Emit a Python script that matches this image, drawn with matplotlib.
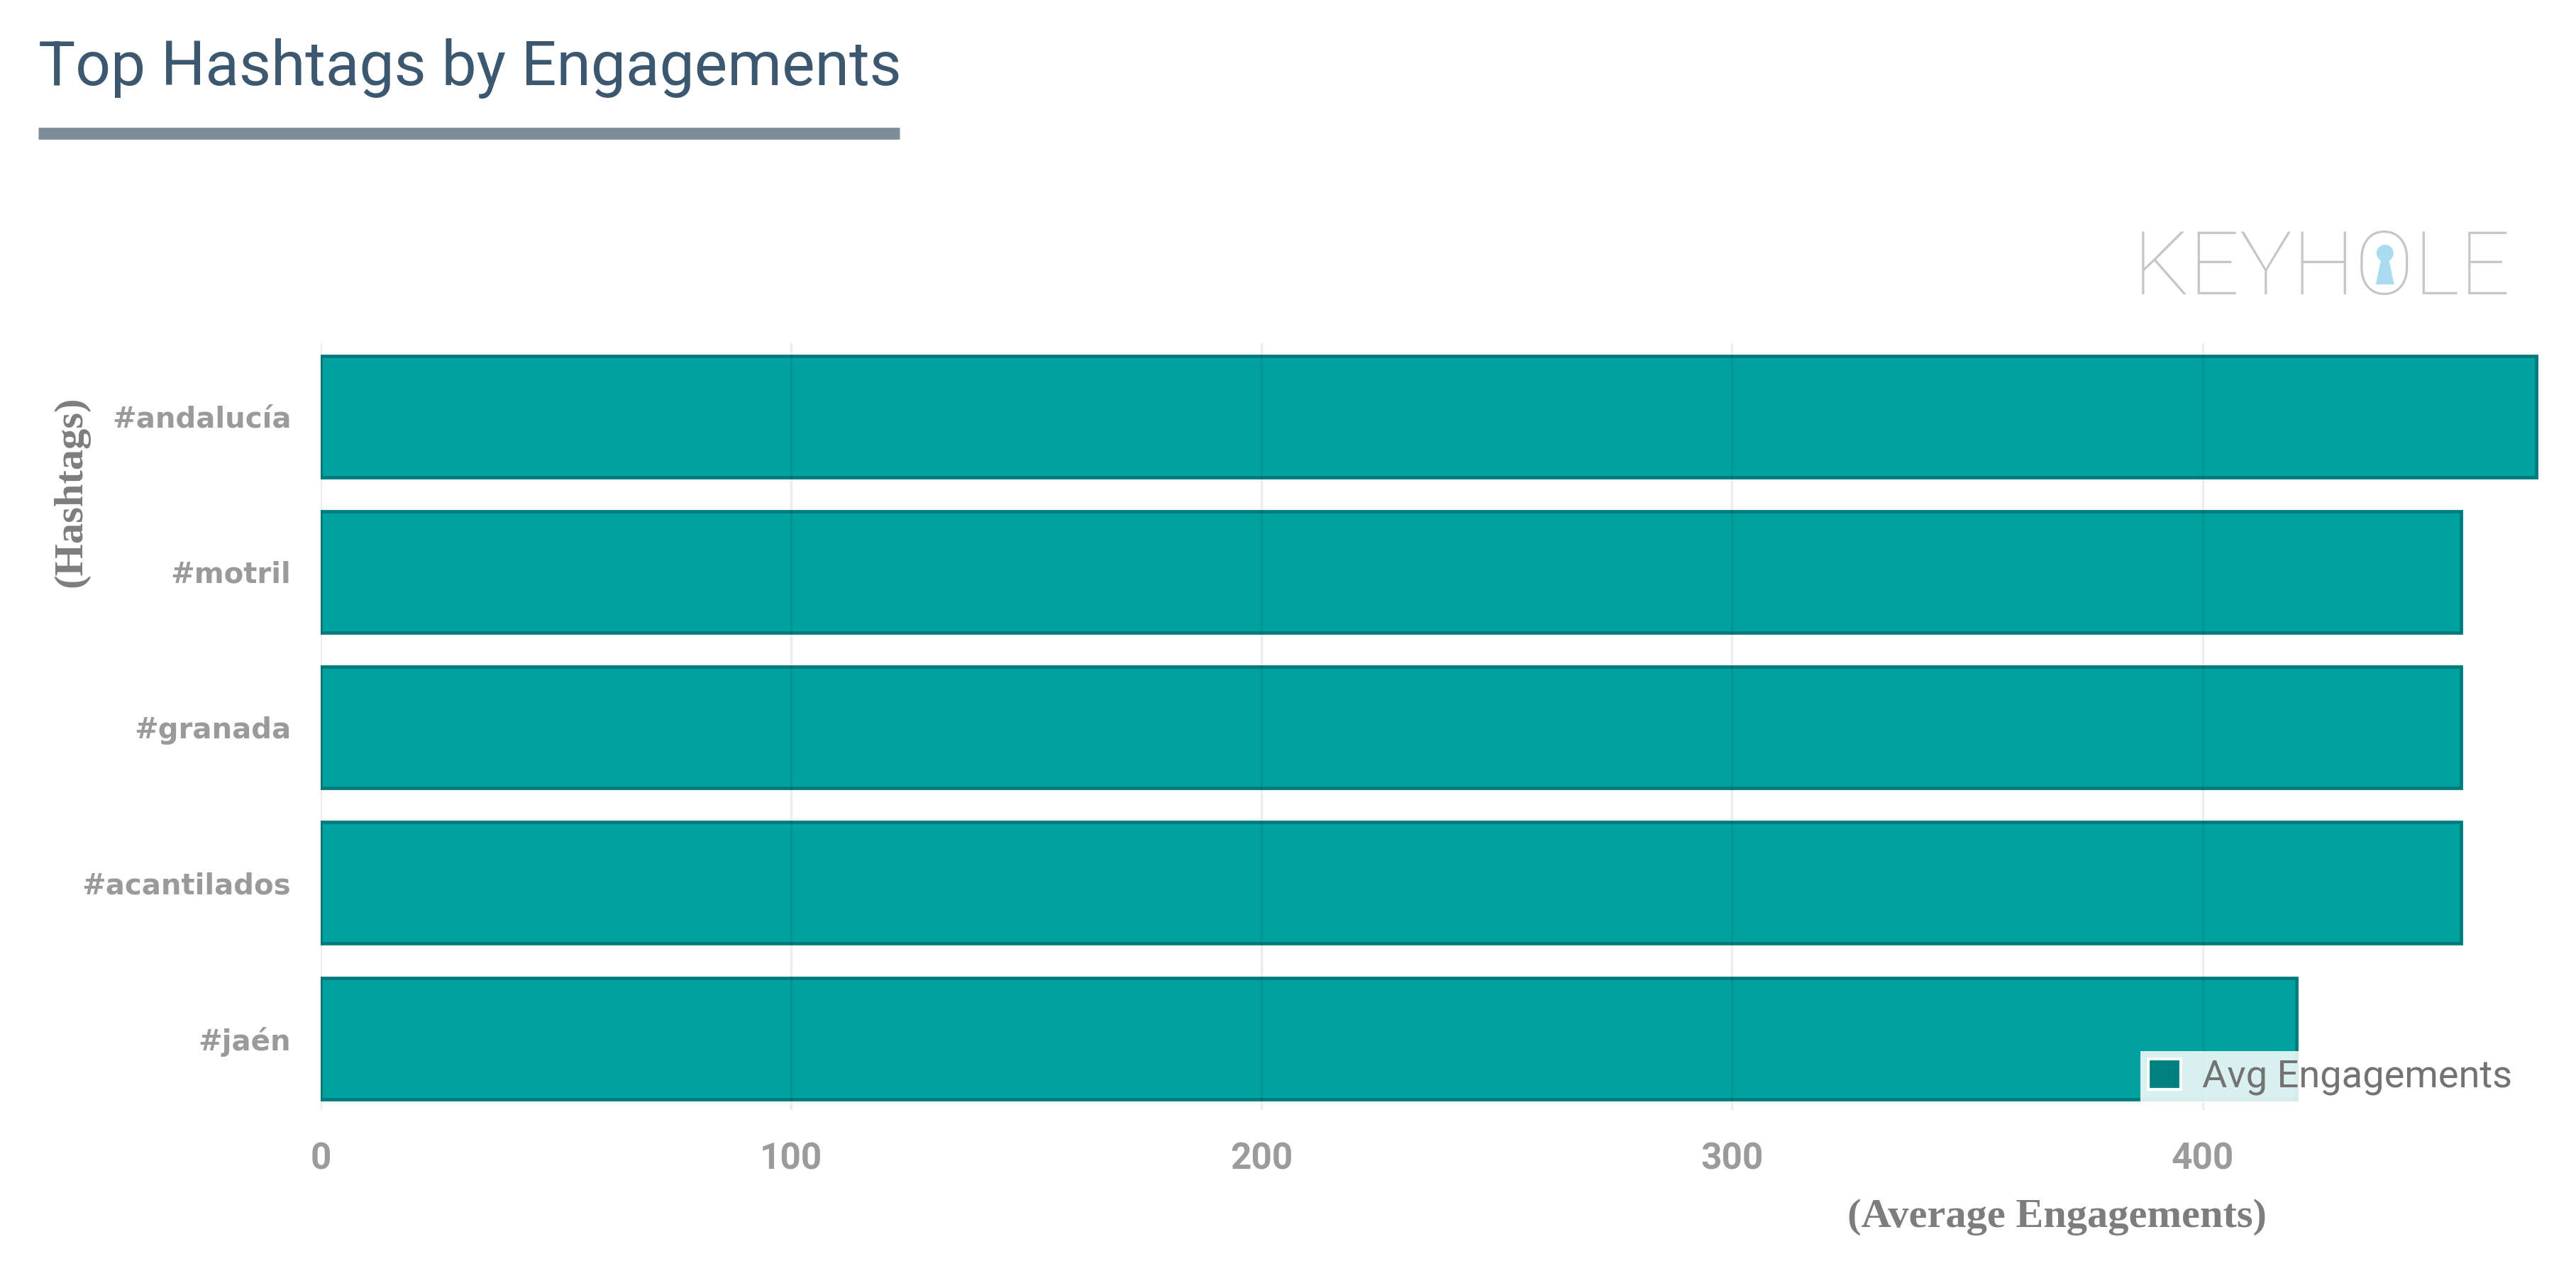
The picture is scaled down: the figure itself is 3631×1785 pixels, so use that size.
import matplotlib.pyplot as plt
from matplotlib.patches import Circle, Polygon, Patch
from matplotlib.lines import Line2D
from matplotlib.transforms import IdentityTransform

hashtags = ['#andalucía', '#motril', '#granada', '#acantilados', '#jaén']
avg_engagements = [471, 455, 455, 455, 420]
x_ticks = [0, 100, 200, 300, 400]

W, H = 3631, 1785
fig = plt.figure(figsize=(W / 100, H / 100), dpi=100)
fig.patch.set_facecolor('white')

ax = fig.add_axes([452 / W, 1 - 1565 / H, (3582 - 452) / W, (1565 - 484) / H])
ax.barh(range(len(hashtags)), avg_engagements, height=0.78,
        color='#00a1a1', edgecolor='#007c7c', linewidth=3.5)
ax.set_xlim(0, 472)
ax.set_ylim(4.46, -0.47)

ax.set_xticks(x_ticks)
ax.set_yticks(range(len(hashtags)))
ax.set_yticklabels(hashtags, family='DejaVu Sans', weight='bold', fontsize=29, color='#9a9a9a')
for lab in ax.get_xticklabels():
    lab.set_family('Roboto')
    lab.set_weight('bold')
    lab.set_fontsize(37)
    lab.set_color('#9b9b9b')
ax.tick_params(axis='both', length=0)
ax.tick_params(axis='y', pad=30)
ax.tick_params(axis='x', pad=32)
for s in ax.spines.values():
    s.set_visible(False)
ax.set_axisbelow(False)
ax.grid(axis='x', color='black', alpha=0.07, linewidth=2.5)
ax.grid(axis='y', visible=False)

handle = Patch(facecolor='#00807f', edgecolor='white', linewidth=3)
leg = ax.legend([handle], ['Avg Engagements'], loc='lower right',
                bbox_to_anchor=(0.999, -0.016), prop={'family': 'Roboto', 'size': 39},
                handlelength=0.85, handleheight=0.85, handletextpad=0.55,
                borderpad=0.2, frameon=True, fancybox=False)
leg.get_frame().set_facecolor('white')
leg.get_frame().set_alpha(0.85)
leg.get_frame().set_edgecolor('none')
for t in leg.get_texts():
    t.set_color('#737373')

# title and underline
fig.text(54 / W, 1 - 120 / H, 'Top Hashtags by Engagements', family='Roboto',
         fontsize=63, color='#3b5870', ha='left', va='baseline')
fig.add_artist(Line2D([54 / W, 1268 / W], [1 - 188 / H, 1 - 188 / H],
                      color='#7b8d9b', linewidth=12, solid_capstyle='butt'))

# axis titles
fig.text(100 / W, 1 - 693 / H, '(Hashtags)', family='Liberation Serif', weight='bold',
         fontsize=42, color='#7d7d7d', rotation=90, ha='center', va='center')
fig.text(2900 / W, 1 - 1716 / H, '(Average Engagements)', family='Liberation Serif',
         weight='bold', fontsize=42, color='#7d7d7d', ha='center', va='center')

# keyhole watermark, the O gets a light blue keyhole
logo_kw = dict(family='Roboto', weight='light', fontsize=90, ha='left', va='baseline')
logo = fig.text(3007 / W, 1 - 415 / H, 'KEYHOLE', color='#c6c6c6', **logo_kw)
fig.canvas.draw()
r = fig.canvas.get_renderer()
pre = fig.text(3007 / W, 1 - 415 / H, 'KEYH', color='none', **logo_kw)
pre_o = fig.text(3007 / W, 1 - 415 / H, 'KEYHO', color='none', **logo_kw)
x_start = pre.get_window_extent(r).x1
x_end = pre_o.get_window_extent(r).x1
pre.remove()
pre_o.remove()
cx = (x_start + x_end) / 2
base = H - 415
kc = '#a9dcee'
fig.add_artist(Circle((cx, base + 58), 12, transform=IdentityTransform(),
                      facecolor=kc, edgecolor='none'))
fig.add_artist(Polygon([(cx - 5, base + 52), (cx + 5, base + 52), (cx + 13, base + 14), (cx - 13, base + 14)],
                       closed=True, transform=IdentityTransform(),
                       facecolor=kc, edgecolor='none'))

fig.savefig('out.png', dpi=100, facecolor='white')
